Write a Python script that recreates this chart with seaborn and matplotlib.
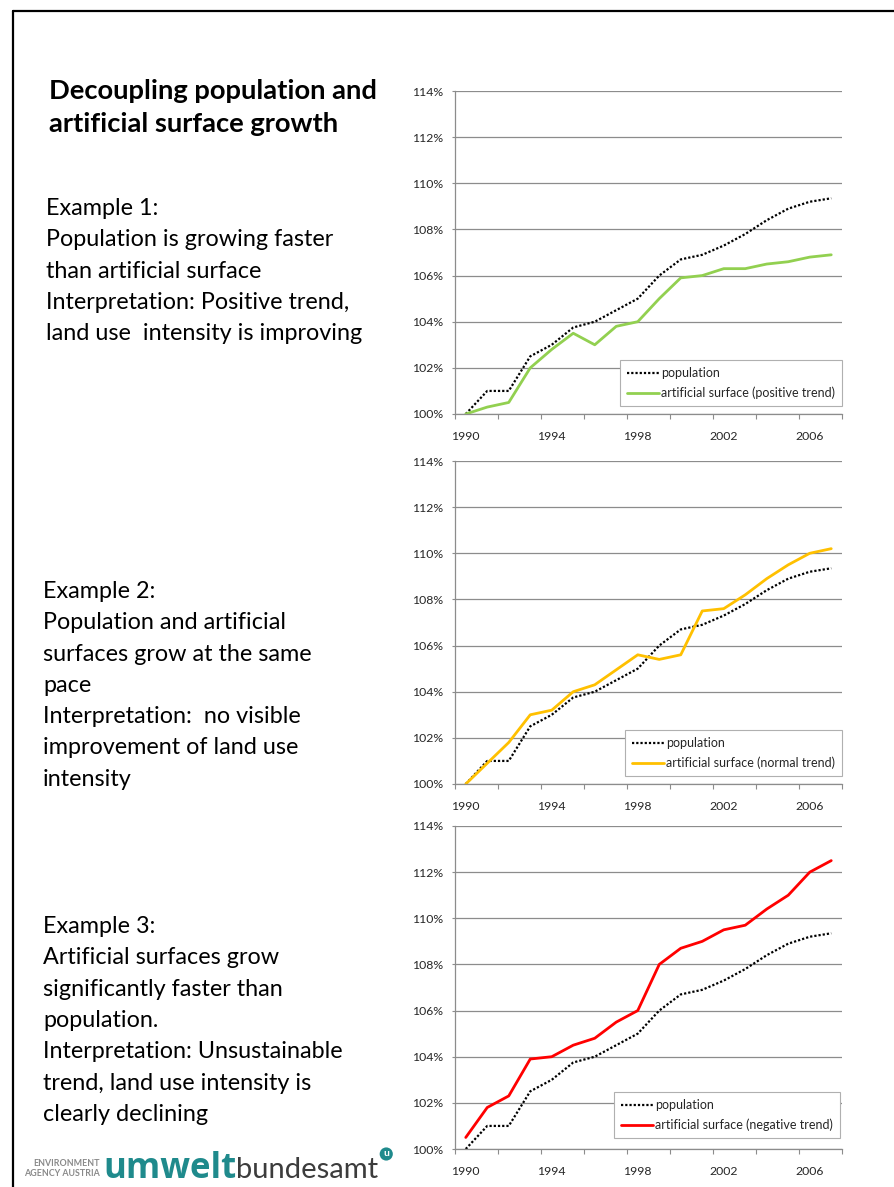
import numpy as np
import pandas as pd
import matplotlib
matplotlib.use("Agg")
import matplotlib.pyplot as plt
from matplotlib.lines import Line2D
import seaborn as sns

# data (index 1990 = 100 %)
years = list(range(1990, 2008))
population = [100.0, 101.0, 101.0, 102.5, 103.0, 103.75, 104.0, 104.5, 105.0, 106.0,
              106.7, 106.9, 107.3, 107.8, 108.4, 108.9, 109.2, 109.35]
surface_positive = [100.0, 100.3, 100.5, 102.0, 102.8, 103.5, 103.0, 103.8, 104.0, 105.0,
                    105.9, 106.0, 106.3, 106.3, 106.5, 106.6, 106.8, 106.9]
surface_normal = [100.0, 100.9, 101.8, 103.0, 103.2, 104.0, 104.3, 104.95, 105.6, 105.4,
                  105.6, 107.5, 107.6, 108.2, 108.9, 109.5, 110.0, 110.2]
surface_negative = [100.5, 101.8, 102.3, 103.9, 104.0, 104.5, 104.8, 105.5, 106.0, 108.0,
                    108.7, 109.0, 109.5, 109.7, 110.4, 111.0, 112.0, 112.5]

y_ticks = [100, 102, 104, 106, 108, 110, 112, 114]
x_labels = [1990, 1994, 1998, 2002, 2006]

title_lines = ["Decoupling population and", "artificial surface growth"]
example_1 = ["Example 1:", "Population is growing faster", "than artificial surface",
             "Interpretation: Positive trend,", "land use  intensity is improving"]
example_2 = ["Example 2:", "Population and artificial", "surfaces grow at the same", "pace",
             "Interpretation:  no visible", "improvement of land use", "intensity"]
example_3 = ["Example 3:", "Artificial surfaces grow", "significantly faster than",
             "population.", "Interpretation: Unsustainable", "trend, land use intensity is",
             "clearly declining"]

W, H = 895, 1187

sns.set_theme(style="white")
plt.rcParams["font.family"] = ["Lato", "DejaVu Sans"]

fig = plt.figure(figsize=(W / 100, H / 100), dpi=100)


def fx(x):
    return x / W


def fy(y):
    return 1 - y / H


# slide frame
fig.add_artist(Line2D([fx(13), fx(13)], [0, fy(11)], transform=fig.transFigure, color="black", lw=1.6))
fig.add_artist(Line2D([fx(13), 1], [fy(11), fy(11)], transform=fig.transFigure, color="black", lw=1.6))

# left hand text
for i, line in enumerate(title_lines):
    fig.text(fx(49), fy(99 + 33 * i), line, fontsize=19.7, fontweight="bold", va="baseline", color="black")

for lines, x0, y0 in [(example_1, 46, 215), (example_2, 43, 598), (example_3, 43, 933)]:
    for i, line in enumerate(lines):
        fig.text(fx(x0), fy(y0 + 31.3 * i), line, fontsize=16.8, va="baseline", color="black")

# logo
teal = "#1f8a8c"
fig.text(fx(100), fy(1166), "ENVIRONMENT", fontsize=6.4, fontweight="bold", color="#8a8a8a", ha="right", va="baseline")
fig.text(fx(100), fy(1176), "AGENCY AUSTRIA", fontsize=6.4, fontweight="bold", color="#8a8a8a", ha="right", va="baseline")
t1 = fig.text(fx(103), fy(1178), "umwelt", fontsize=25, fontweight="bold", color=teal,
              va="baseline", family=["Open Sans", "DejaVu Sans"])
fig.canvas.draw()
x_end = t1.get_window_extent().x1
t2 = fig.text(x_end / W, fy(1178), "bundesamt", fontsize=21, color="#3c3c3c", va="baseline")
fig.canvas.draw()
x_end2 = t2.get_window_extent().x1
fig.text((x_end2 + 8) / W, fy(1154), "u", fontsize=7.5, fontweight="bold", color="white", ha="center", va="center",
         bbox=dict(boxstyle="circle,pad=0.2", fc=teal, ec="none"))

panels = [
    (surface_positive, "#92D050", "artificial surface (positive trend)", 414, 0.025, 1.0),
    (surface_normal, "#FFC000", "artificial surface (normal trend)", 784, 0.025, 1.0),
    (surface_negative, "#FF0000", "artificial surface (negative trend)", 1149, 0.034, 0.995),
]

grid_col = "#8c8c8c"
for surface, color, label, bottom_px, leg_y, leg_x in panels:
    ax = fig.add_axes([fx(455), fy(bottom_px), (842 - 455) / W, 323 / H])
    df = pd.DataFrame({"year": years, "population": population, "surface": surface})
    sns.lineplot(data=df, x="year", y="population", ax=ax, color="black",
                 linestyle=(0, (1, 0.9)), linewidth=1.6, label="population")
    sns.lineplot(data=df, x="year", y="surface", ax=ax, color=color,
                 linewidth=2.0, label=label)

    ax.set_xlim(1989.5, 2007.5)
    ax.set_ylim(100, 114)
    ax.set_yticks(y_ticks)
    ax.set_yticklabels([f"{v}%" for v in y_ticks])
    ax.set_xticks(np.arange(1989.5, 2008, 2))
    ax.set_xticklabels([])
    ax.set_xticks(x_labels, minor=True)
    ax.set_xticklabels([str(v) for v in x_labels], minor=True)
    ax.set_xlabel("")
    ax.set_ylabel("")

    ax.yaxis.grid(True, color=grid_col, linewidth=0.9)
    ax.xaxis.grid(False)
    ax.set_axisbelow(True)
    for side in ["top", "right"]:
        ax.spines[side].set_visible(False)
    for side in ["left", "bottom"]:
        ax.spines[side].set_color(grid_col)
        ax.spines[side].set_linewidth(0.9)

    ax.tick_params(axis="y", which="major", left=True, length=2.5, width=0.8, color=grid_col,
                   labelsize=8.8, labelcolor="#262626", pad=6)
    ax.tick_params(axis="x", which="major", bottom=True, length=3.5, width=0.8, color=grid_col)
    ax.tick_params(axis="x", which="minor", bottom=True, length=0, labelsize=8.8,
                   labelcolor="#262626", pad=12)

    leg = ax.legend(loc="lower right", bbox_to_anchor=(leg_x, leg_y), fontsize=9,
                    frameon=True, fancybox=False, framealpha=1, edgecolor="#b0b0b0",
                    handlelength=2.55, handletextpad=0.2, labelspacing=0.6,
                    borderpad=0.55, borderaxespad=0)
    leg.get_frame().set_linewidth(0.8)
    for txt in leg.get_texts():
        txt.set_color("#262626")

fig.savefig("out.png", dpi=100)
